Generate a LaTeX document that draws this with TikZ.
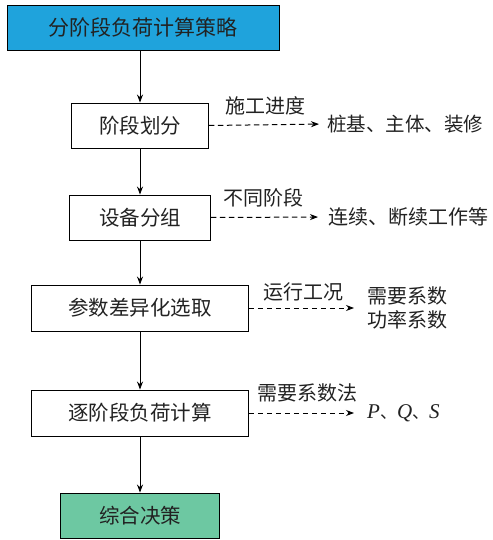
\documentclass[tikz,border=0pt]{standalone}
\usepackage{fontspec}
\newfontfamily\cjk{Noto Sans CJK SC}
\newfontfamily\tms{Liberation Serif}
\usetikzlibrary{arrows.meta}
\definecolor{topblue}{HTML}{1FA3DC}
\definecolor{endgreen}{HTML}{6DC8A2}
\definecolor{txt}{HTML}{222222}
\tikzset{
  box/.style={draw=black, line width=0.9pt, minimum height=45pt, inner sep=0pt, font=\cjk\fontsize{20.5pt}{23pt}\selectfont, text=txt},
  lbl/.style={inner sep=0pt, font=\cjk\fontsize{20pt}{24pt}\selectfont, text=txt},
  flow/.style={line width=0.9pt, -{Stealth[length=8pt,width=6pt]}},
  dflow/.style={line width=1pt, dash pattern=on 5.5pt off 3.5pt, -{Stealth[length=8pt,width=6pt]}}
}
\begin{document}
\begin{tikzpicture}[x=1pt,y=1pt]
\useasboundingbox (0,0) rectangle (492,-540);
\node[box, fill=topblue, minimum width=272pt, font=\cjk\fontsize{21pt}{23pt}\selectfont] (top) at (143,-28) {分阶段负荷计算策略};
\node[box, minimum width=137pt] (b1) at (140,-125.5) {阶段划分};
\node[box, minimum width=141pt] (b2) at (140,-217.5) {设备分组};
\node[box, minimum width=217pt, minimum height=46pt] (b3) at (140,-308) {参数差异化选取};
\node[box, minimum width=217pt, minimum height=46pt] (b4) at (140,-413) {逐阶段负荷计算};
\node[box, fill=endgreen, minimum width=159pt] (b5) at (140,-515.5) {综合决策};

\draw[flow] (140,-50.5) -- (b1.north);
\draw[flow] (b1) -- (b2);
\draw[flow] (b2) -- (b3);
\draw[flow] (b3) -- (b4);
\draw[flow] (b4) -- (b5);

\node[lbl, anchor=west, font=\cjk\fontsize{19.5pt}{24pt}\selectfont] (t1) at (327,-124) {桩基、主体、装修};
\node[lbl, anchor=west] (t2) at (328,-217) {连续、断续工作等};
\node[lbl, anchor=west, align=left] (t3) at (367,-308) {需要系数\\功率系数};
\node[lbl, anchor=west] (t4) at (367,-413) {\tms\itshape\fontsize{21pt}{23pt}\selectfont P{\cjk\fontsize{17pt}{20pt}\selectfont 、}Q{\cjk\fontsize{17pt}{20pt}\selectfont 、}S};

\draw[dflow, shorten >=8pt] (b1.east) -- (t1.west);
\draw[dflow, shorten >=10pt] (b2.east) -- (t2.west);
\draw[dflow, shorten >=13pt] (b3.east) -- (b3.east -| t3.west);
\draw[dflow, shorten >=13pt] (b4.east) -- (t4.west);

\node[lbl] (l1) at (265,-106) {施工进度};
\node[lbl] (l2) at (263,-198) {不同阶段};
\node[lbl] (l3) at (303,-292) {运行工况};
\node[lbl] (l4) at (307,-393) {需要系数法};
\end{tikzpicture}
\end{document}
